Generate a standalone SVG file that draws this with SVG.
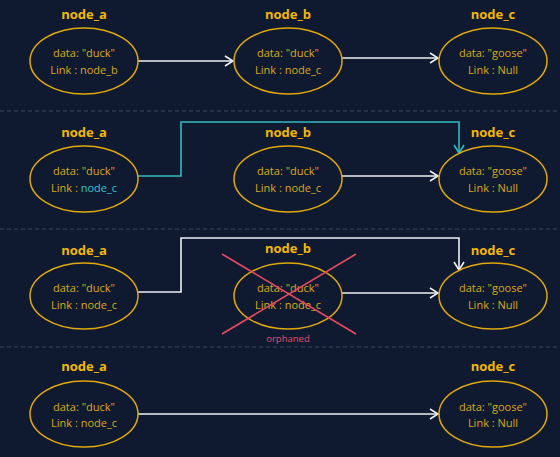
<svg xmlns="http://www.w3.org/2000/svg" width="560" height="457" viewBox="0 0 560 457">
<defs>
<style>
.lbl{font-family:"Open Sans","Noto Sans",sans-serif;font-size:13px;font-weight:bold;fill:#f2b705;text-anchor:middle}
.txt{font-family:"Open Sans","Noto Sans",sans-serif;font-size:11px;fill:#d9a91c;text-anchor:middle}
.ell{fill:none;stroke:#e0a80c;stroke-width:1.5}
.sep{stroke:#3b4763;stroke-width:1;stroke-dasharray:4 3}
.w{fill:none;stroke:#eef0f5;stroke-width:1.6}
.t{fill:none;stroke:#35b8bc;stroke-width:1.6}
.x{stroke:#e84a62;stroke-width:1.6}
</style>
<marker id="aw" markerWidth="10" markerHeight="12" refX="9" refY="6" orient="auto" markerUnits="userSpaceOnUse">
<path d="M1,1 L9,6 L1,11" fill="none" stroke="#eef0f5" stroke-width="1.6"/>
</marker>
<marker id="at" markerWidth="10" markerHeight="12" refX="9" refY="6" orient="auto" markerUnits="userSpaceOnUse">
<path d="M1,1 L9,6 L1,11" fill="none" stroke="#35b8bc" stroke-width="1.6"/>
</marker>
</defs>
<rect width="560" height="457" fill="#0f1a31"/>
<g id="separators">
<line class="sep" x1="0" y1="111" x2="560" y2="111"/>
<line class="sep" x1="0" y1="229" x2="560" y2="229"/>
<line class="sep" x1="0" y1="347" x2="560" y2="347"/>
</g>
<g id="connectors">
<line class="w" x1="138" y1="61" x2="233" y2="61" marker-end="url(#aw)"/>
<line class="w" x1="342" y1="58" x2="438" y2="58" marker-end="url(#aw)"/>
<polyline class="t" points="138,176 181,176 181,122 459,122 459,153" marker-end="url(#at)"/>
<line class="w" x1="342" y1="176" x2="438" y2="176" marker-end="url(#aw)"/>
<polyline class="w" points="138,292 181,292 181,238 459,238 459,270" marker-end="url(#aw)"/>
<line class="w" x1="342" y1="293" x2="438" y2="293" marker-end="url(#aw)"/>
<line class="w" x1="138" y1="414" x2="438" y2="414" marker-end="url(#aw)"/>
</g>
<g id="r1_node_a">
<text class="lbl" x="84" y="19">node_a</text>
<ellipse class="ell" cx="84" cy="61" rx="54" ry="33"/>
<text class="txt" x="84" y="57">data: "duck"</text>
<text class="txt" x="84" y="74">Link : node_b</text>
</g>
<g id="r1_node_b">
<text class="lbl" x="288" y="19">node_b</text>
<ellipse class="ell" cx="288" cy="61" rx="54" ry="33"/>
<text class="txt" x="288" y="57">data: "duck"</text>
<text class="txt" x="288" y="74">Link : node_c</text>
</g>
<g id="r1_node_c">
<text class="lbl" x="493" y="19">node_c</text>
<ellipse class="ell" cx="493" cy="61" rx="54" ry="33"/>
<text class="txt" x="493" y="57">data: "goose"</text>
<text class="txt" x="493" y="74">Link : Null</text>
</g>
<g id="r2_node_a">
<text class="lbl" x="84" y="137">node_a</text>
<ellipse class="ell" cx="84" cy="179" rx="54" ry="33"/>
<text class="txt" x="84" y="175">data: "duck"</text>
<text class="txt" x="84" y="192">Link : <tspan fill="#35c3c6">node_c</tspan></text>
</g>
<g id="r2_node_b">
<text class="lbl" x="288" y="137">node_b</text>
<ellipse class="ell" cx="288" cy="179" rx="54" ry="33"/>
<text class="txt" x="288" y="175">data: "duck"</text>
<text class="txt" x="288" y="192">Link : node_c</text>
</g>
<g id="r2_node_c">
<text class="lbl" x="493" y="137">node_c</text>
<ellipse class="ell" cx="493" cy="179" rx="54" ry="33"/>
<text class="txt" x="493" y="175">data: "goose"</text>
<text class="txt" x="493" y="192">Link : Null</text>
</g>
<g id="r3_node_a">
<text class="lbl" x="84" y="255">node_a</text>
<ellipse class="ell" cx="84" cy="296" rx="54" ry="33"/>
<text class="txt" x="84" y="292">data: "duck"</text>
<text class="txt" x="84" y="309">Link : node_c</text>
</g>
<g id="r3_node_b">
<text class="lbl" x="288" y="253">node_b</text>
<ellipse class="ell" cx="288" cy="296" rx="54" ry="33"/>
<text class="txt" x="288" y="292">data: "duck"</text>
<text class="txt" x="288" y="309">Link : node_c</text>
<line class="x" x1="222" y1="254" x2="356" y2="334"/>
<line class="x" x1="356" y1="254" x2="222" y2="334"/>
<text class="txt" x="288" y="342" style="font-size:9.5px;fill:#e0506a">orphaned</text>
</g>
<g id="r3_node_c">
<text class="lbl" x="493" y="255">node_c</text>
<ellipse class="ell" cx="493" cy="296" rx="54" ry="33"/>
<text class="txt" x="493" y="292">data: "goose"</text>
<text class="txt" x="493" y="309">Link : Null</text>
</g>
<g id="r4_node_a">
<text class="lbl" x="84" y="371">node_a</text>
<ellipse class="ell" cx="84" cy="414" rx="54" ry="33"/>
<text class="txt" x="84" y="411">data: "duck"</text>
<text class="txt" x="84" y="427">Link : node_c</text>
</g>
<g id="r4_node_c">
<text class="lbl" x="493" y="371">node_c</text>
<ellipse class="ell" cx="493" cy="414" rx="54" ry="33"/>
<text class="txt" x="493" y="411">data: "goose"</text>
<text class="txt" x="493" y="427">Link : Null</text>
</g>
</svg>
